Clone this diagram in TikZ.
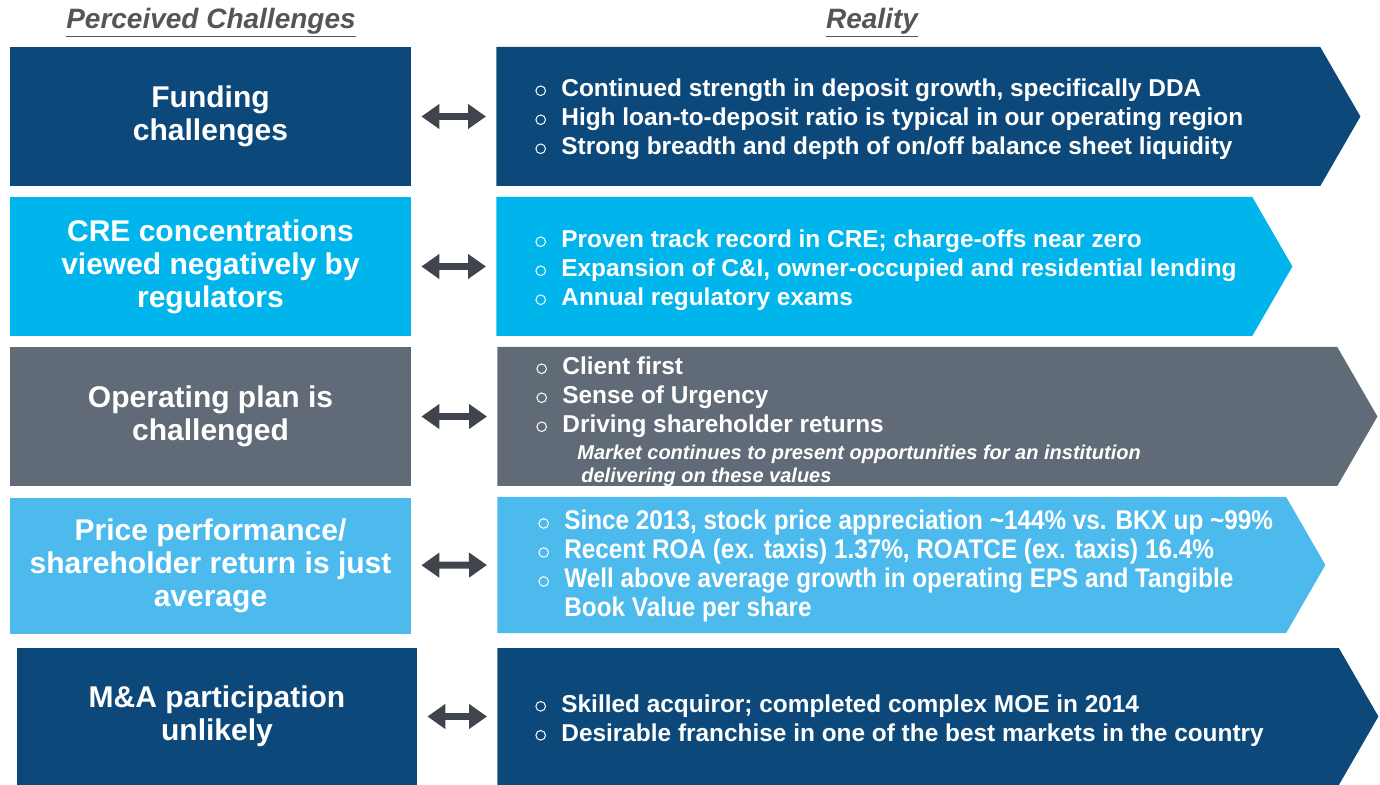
\documentclass[tikz,border=0pt]{standalone}
\usepackage{fontspec}
\setmainfont{Liberation Sans}
\newfontfamily\narrowsf[FakeStretch=0.9]{Liberation Sans}
\usetikzlibrary{shapes.symbols,arrows.meta,positioning}
\definecolor{navy}{RGB}{12,73,122}
\definecolor{cyanblue}{RGB}{0,181,236}
\definecolor{slate}{RGB}{97,107,119}
\definecolor{skyblue}{RGB}{76,186,236}
\definecolor{arrowgray}{RGB}{64,68,76}
\definecolor{headgray}{RGB}{85,85,85}
\newcommand\bul{\makebox[13pt][l]{\tikz[baseline=-3pt]\draw[white,line width=0.5pt] (0,0) circle (2.4pt);}}
\begin{document}
\begin{tikzpicture}[x=0.5pt,y=-0.5pt,
  challenge/.style={rectangle, minimum width=200.5pt, minimum height=69.5pt, inner sep=0pt,
    text=white, align=center, font=\bfseries\fontsize{15}{16.5}\selectfont},
  reality/.style={signal, signal to=east, signal pointer angle=120, minimum height=69.5pt,
    inner sep=0pt, anchor=west},
  facts/.style={anchor=west, inner sep=0pt, text=white, align=left,
    font=\bfseries\fontsize{12.2}{14.5}\selectfont},
  note/.style={inner sep=0pt, text=white, align=left,
    font=\bfseries\itshape\fontsize{10}{11.5}\selectfont},
  biarrow/.style={{Triangle[length=9pt,width=12pt]}-{Triangle[length=9pt,width=12pt]},
    line width=3.5pt, arrowgray, shorten <=5pt, shorten >=5pt},
  header/.style={text=headgray, font=\bfseries\itshape\fontsize{14}{16}\selectfont}]
\useasboundingbox (0,0) rectangle (1380,785);

%*** Headers ***
\node[header] (hleft) at (211,23) {\underline{Perceived Challenges}};
\node[header] (hright) at (872,23) {\underline{Reality}};

%*** Row 1 ***
\node[challenge, fill=navy] (c1) at (210.5,116.5) {Funding\\challenges};
\node[reality, fill=navy, minimum width=432pt] (r1) at (496,116.5) {};
\node[facts] (f1) at ([xshift=19.5pt,yshift=-1.5pt]r1.west)
  {\bul Continued strength in deposit growth, specifically DDA\\
   \bul High loan-to-deposit ratio is typical in our operating region\\
   \bul Strong breadth and depth of on/off balance sheet liquidity};
\draw[biarrow] (c1) -- (r1.west);

%*** Row 2 ***
\node[challenge, fill=cyanblue] (c2) at (210.5,266.5) {CRE concentrations\\viewed negatively by\\regulators};
\node[reality, fill=cyanblue, minimum width=398pt] (r2) at (496,266.5) {};
\node[facts] (f2) at ([xshift=19.5pt,yshift=-2pt]r2.west)
  {\bul Proven track record in CRE; charge-offs near zero\\
   \bul Expansion of C\&I, owner-occupied and residential lending\\
   \bul Annual regulatory exams};
\draw[biarrow] (c2) -- (r2.west);

%*** Row 3 ***
\node[challenge, fill=slate] (c3) at (210.5,416.5) {Operating plan is\\challenged};
\node[reality, fill=slate, minimum width=440pt] (r3) at (497,416.5) {};
\node[facts] (f3) at ([xshift=19.5pt,yshift=9.5pt]r3.west)
  {\bul Client first\\
   \bul Sense of Urgency\\
   \bul Driving shareholder returns};
\node[note, below right=3pt and 20.5pt of f3.south west] (n3)
  {Market continues to present opportunities for an institution\\
   \hspace*{2pt}delivering on these values};
\draw[biarrow] (c3) -- (r3.west);

%*** Row 4 ***
\node[challenge, fill=skyblue, minimum height=68pt] (c4) at (210.5,566) {Price performance/\\shareholder return is just\\average};
\node[reality, fill=skyblue, minimum width=414pt, minimum height=68pt] (r4) at (497,565) {};
\node[facts, font=\narrowsf\bfseries\fontsize{13.5}{14.5}\selectfont] (f4) at ([xshift=20.5pt,yshift=-0.5pt]r4.west)
  {\bul Since 2013, stock price appreciation \textasciitilde144\% vs. BKX up \textasciitilde99\%\\
   \bul Recent ROA (ex. taxis) 1.37\%, ROATCE (ex. taxis) 16.4\%\\
   \bul Well above average growth in operating EPS and Tangible\\
   \hspace*{13pt}Book Value per share};
\draw[biarrow] (c4) -- (r4.west);

%*** Row 5 ***
\node[challenge, fill=navy, minimum width=200pt, minimum height=68.5pt] (c5) at (217,716.5) {M\&A participation\\unlikely};
\node[reality, fill=navy, minimum width=440.5pt, minimum height=68.5pt] (r5) at (497,716.5) {};
\node[facts] (f5) at ([xshift=19pt,yshift=-2pt]r5.west)
  {\bul Skilled acquiror; completed complex MOE in 2014\\
   \bul Desirable franchise in one of the best markets in the country};
\draw[biarrow] (c5) -- (r5.west);
\end{tikzpicture}
\end{document}
